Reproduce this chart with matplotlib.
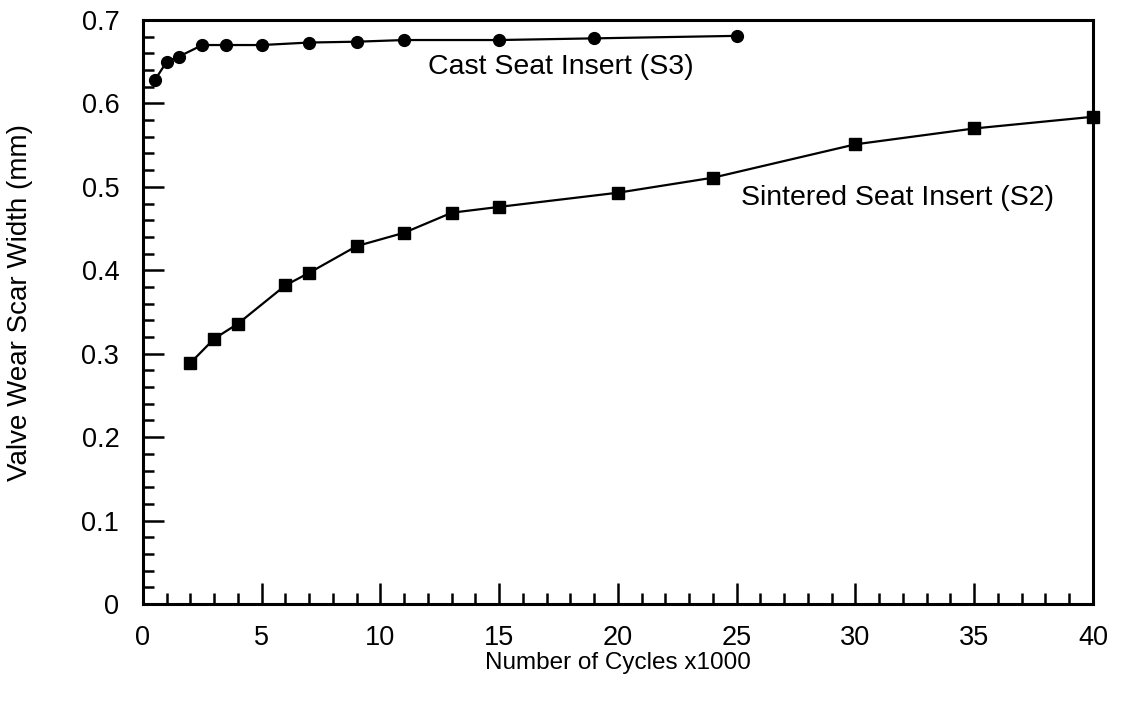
import matplotlib
matplotlib.use("Agg")
import matplotlib.pyplot as plt
from matplotlib.ticker import MultipleLocator

plt.rcParams["font.family"] = ["Liberation Sans", "DejaVu Sans"]

# Cast seat insert (S3)
cast_cycles = [0.5, 1, 1.5, 2.5, 3.5, 5, 7, 9, 11, 15, 19, 25]
cast_width = [0.628, 0.650, 0.656, 0.670, 0.670, 0.670, 0.673, 0.674,
              0.676, 0.676, 0.678, 0.681]

# Sintered seat insert (S2)
sint_cycles = [2, 3, 4, 6, 7, 9, 11, 13, 15, 20, 24, 30, 35, 40]
sint_width = [0.289, 0.318, 0.336, 0.382, 0.397, 0.429, 0.445, 0.469,
              0.476, 0.493, 0.511, 0.551, 0.570, 0.584]

fig = plt.figure(figsize=(11.24, 7.07), dpi=100)
ax = fig.add_axes([0.1272, 0.1457, 0.8452, 0.826])

ax.plot(cast_cycles, cast_width, color="black", lw=1.6,
        marker="o", ms=8.5, clip_on=False, zorder=3)
ax.plot(sint_cycles, sint_width, color="black", lw=1.6,
        marker="s", ms=8.5, clip_on=False, zorder=3)

ax.text(12.0, 0.644, "Cast Seat Insert (S3)", fontsize=20.5,
        ha="left", va="center")
ax.text(25.2, 0.487, "Sintered Seat Insert (S2)", fontsize=20.5,
        ha="left", va="center")

ax.set_xlim(0, 40)
ax.set_ylim(0, 0.7)
ax.xaxis.set_major_locator(MultipleLocator(5))
ax.xaxis.set_minor_locator(MultipleLocator(1))
ax.yaxis.set_minor_locator(MultipleLocator(0.02))
ax.set_yticks([0, 0.1, 0.2, 0.3, 0.4, 0.5, 0.6, 0.7])
ax.set_yticklabels(["0", "0.1", "0.2", "0.3", "0.4", "0.5", "0.6", "0.7"])

ax.tick_params(which="both", direction="in", top=False, right=False,
               width=1.8, labelsize=19.5)
ax.tick_params(axis="x", which="major", length=15, pad=15)
ax.tick_params(axis="y", which="major", length=15, pad=17)
ax.tick_params(which="minor", length=8)
for s in ax.spines.values():
    s.set_linewidth(2.2)

ax.set_xlabel("Number of Cycles x1000", fontsize=17.5, labelpad=1)
ax.set_ylabel("Valve Wear Scar Width (mm)", fontsize=20)
ax.yaxis.set_label_coords(-0.116, 0.517)

fig.savefig("out.png", dpi=100)
